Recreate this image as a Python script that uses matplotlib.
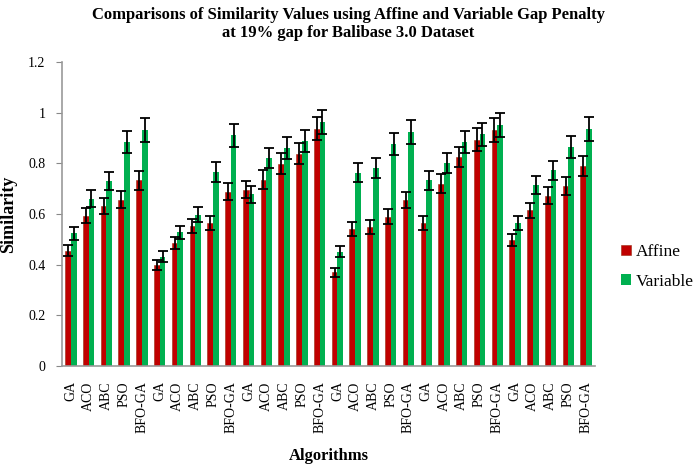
# -*- coding: utf-8 -*-

# grouped bars: affine vs variable gap penalty, 19% gap, Balibase 3.0

import numpy as np
import matplotlib
matplotlib.use('Agg')
import matplotlib.pyplot as plt

plt.rcParams['font.family'] = ['Liberation Serif', 'DejaVu Serif']

algorithms = ['GA', 'ACO', 'ABC', 'PSO', 'BFO-GA'] * 6

affine = [0.455, 0.593, 0.632, 0.657, 0.733,
          0.400, 0.485, 0.553, 0.564, 0.688,
          0.696, 0.735, 0.799, 0.838, 0.937,
          0.370, 0.541, 0.550, 0.590, 0.656,
          0.564, 0.720, 0.825, 0.894, 0.931,
          0.498, 0.614, 0.673, 0.709, 0.788]

variable = [0.524, 0.660, 0.730, 0.883, 0.931,
            0.432, 0.528, 0.598, 0.766, 0.911,
            0.677, 0.821, 0.862, 0.888, 0.964,
            0.451, 0.763, 0.783, 0.877, 0.923,
            0.733, 0.800, 0.884, 0.915, 0.950,
            0.564, 0.713, 0.772, 0.865, 0.935]

# error bars are 5% of the value (excel percentage error bars)
err_pct = 0.05

affine = np.array(affine)
variable = np.array(variable)

fig = plt.figure(figsize=(6.97, 4.68), dpi=100)
ax = fig.add_axes([62/697, 1-366/468, (595-62)/697, (366-62)/468])

index = np.arange(len(algorithms))
bar_width = 0.32
ekw = dict(ecolor='black', elinewidth=1.3, capsize=3.5, capthick=1.3)

ax.bar(index - bar_width/2, affine, bar_width, color='#C00000', edgecolor='#9a2a10', linewidth=0.4,
       yerr=affine*err_pct, error_kw=ekw, label='Affine')
ax.bar(index + bar_width/2, variable, bar_width, color='#00B050',
       yerr=variable*err_pct, error_kw=ekw, label='Variable')

ax.set_xlim(-0.5, len(algorithms) - 0.5)
ax.set_ylim(0, 1.2)
ax.set_yticks([0, 0.2, 0.4, 0.6, 0.8, 1.0, 1.2])
ax.set_yticklabels(['0', '0.2', '0.4', '0.6', '0.8', '1', '1.2'], fontsize=10)
ax.set_xticks(index)
ax.set_xticklabels(algorithms, rotation=90, fontsize=10)
ax.tick_params(axis='x', length=0, pad=11)
ax.tick_params(axis='y', length=4, color='#888888', pad=8)

for s in ['top', 'right']:
    ax.spines[s].set_visible(False)
for s in ['left', 'bottom']:
    ax.spines[s].set_color('#999999')
    ax.spines[s].set_linewidth(1.2)

ax.set_ylabel('Similarity', fontsize=13, fontweight='bold')
ax.yaxis.set_label_coords(-45/533, 0.5)
ax.set_xlabel('Algorithms', fontsize=12, fontweight='bold')
ax.xaxis.set_label_coords(0.5, -(448-366)/304)

fig.suptitle('Comparisons of Similarity Values using Affine and Variable Gap Penalty\nat 19% gap for Balibase 3.0 Dataset',
             fontsize=12, fontweight='bold', y=0.985, x=0.5)

ax.legend(loc='center left', bbox_to_anchor=(1.02, 0.326), frameon=False, fontsize=12.5,
          handlelength=0.55, handleheight=0.55, handletextpad=0.3, labelspacing=0.8)

fig.savefig('out.png', dpi=100)
